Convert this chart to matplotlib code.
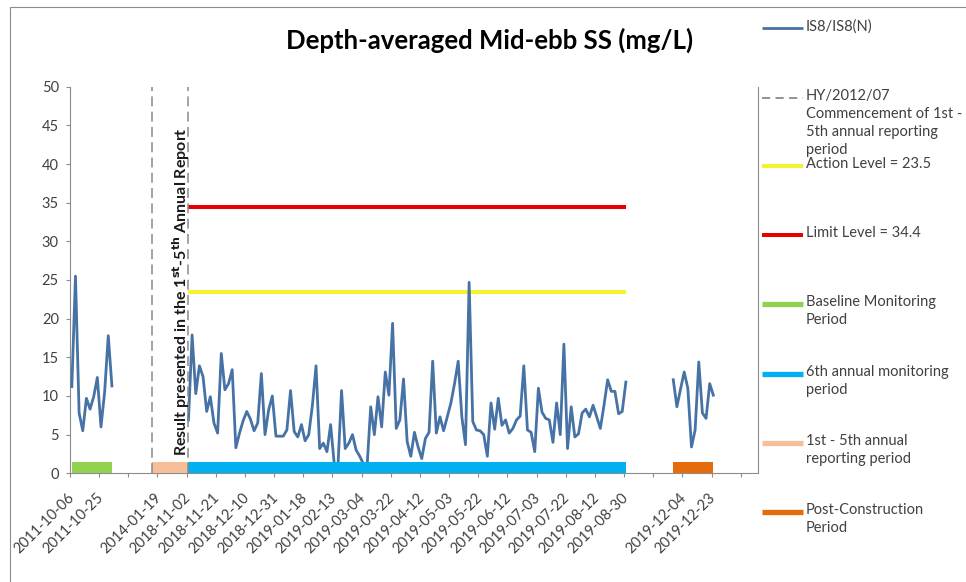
import numpy as np
import matplotlib
matplotlib.use("Agg")
import matplotlib.pyplot as plt
from matplotlib.lines import Line2D
from matplotlib.patches import Rectangle

plt.rcParams['font.family'] = ['Lato', 'DejaVu Sans']

W, H = 966, 582

# depth-averaged mid-ebb SS (mg/L), one value per monitoring day
baseline_ss = [11.2, 25.5, 7.8, 5.5, 9.7, 8.3, 9.9, 12.4, 6.0, 10.5, 17.8, 11.3]
sixth_ss = [6.9, 17.9, 10.3, 13.9, 12.5, 8.0, 9.9, 6.5, 5.2, 15.5,
            10.8, 11.6, 13.4, 3.3, 5.2, 6.8, 8.0, 7.0, 5.5, 6.5,
            12.9, 5.0, 8.2, 10.0, 4.8, 4.8, 4.8, 5.6, 10.7, 5.4,
            4.7, 6.3, 4.2, 5.0, 8.8, 13.9, 3.2, 3.9, 2.8, 6.3,
            1.2, 0.8, 10.7, 3.2, 3.9, 5.0, 3.0, 2.2, 1.2, 0.9,
            8.6, 5.0, 9.9, 6.0, 13.1, 10.1, 19.4, 5.8, 6.9, 12.2,
            4.1, 2.2, 5.3, 3.4, 1.9, 4.5, 5.3, 14.5, 5.2, 7.3,
            5.5, 7.3, 9.1, 11.6, 14.5, 7.3, 3.7, 24.7, 6.7, 5.6,
            5.5, 5.0, 2.2, 9.1, 5.7, 9.7, 6.2, 6.9, 5.2, 5.8,
            6.9, 7.4, 13.9, 5.6, 5.3, 2.8, 11.0, 7.9, 7.1, 6.9,
            4.0, 9.1, 5.0, 16.7, 3.2, 8.6, 4.7, 5.1, 7.8, 8.3,
            7.3, 8.8, 7.3, 5.8, 8.8, 12.1, 10.6, 10.6, 7.7, 8.0,
            11.8]
post_ss = [12.1, 8.6, 10.9, 13.1, 11.0, 3.4, 5.6, 14.4, 7.8, 7.1, 11.6, 10.1]

baseline_start = 0
sixth_start = 32
post_start = 165
n_categories = 189

tick_every = 8
tick_labels = ["2011-10-06", "2011-10-25", "", "2014-01-19", "2018-11-02",
               "2018-11-21", "2018-12-10", "2018-12-31", "2019-01-18",
               "2019-02-13", "2019-03-04", "2019-03-22", "2019-04-12",
               "2019-05-03", "2019-05-22", "2019-06-12", "2019-07-03",
               "2019-07-22", "2019-08-12", "2019-08-30", "",
               "2019-12-04", "2019-12-23", ""]

action_level = 23.5
limit_level = 34.4
level_range = [32, 152]
commencement_cats = [22, 32]

period_bar_height = 1.5
period_names = ["Baseline Monitoring\nPeriod", "6th annual monitoring\nperiod",
                "1st - 5th annual\nreporting period", "Post-Construction\nPeriod"]
period_ranges = [[0, 11], [32, 152], [22, 32], [165, 176]]
period_colors = ["#92D050", "#00B0F0", "#F7BF98", "#E46C0A"]

series_color = "#4672A6"
dash_color = "#8a8a8a"
yellow = "#F4F42C"
red = "#E60000"
axis_grey = "#8c8c8c"
text_col = "#404040"

# ---- build the series on the category axis
ss = np.full(n_categories, np.nan)
ss[baseline_start:baseline_start + len(baseline_ss)] = baseline_ss
ss[sixth_start:sixth_start + len(sixth_ss)] = sixth_ss
ss[post_start:post_start + len(post_ss)] = post_ss
cats = np.arange(n_categories)

fig = plt.figure(figsize=(W / 100, H / 100), dpi=100)
ax = fig.add_axes([70 / W, 1 - 473.3 / H, (758 - 70) / W, (473.3 - 86.7) / H])

lv = np.arange(level_range[0], level_range[1] + 1)
ax.plot(lv, np.full(len(lv), action_level), color=yellow, lw=2.9,
        solid_capstyle='butt', zorder=2)
ax.plot(lv, np.full(len(lv), limit_level), color=red, lw=2.9,
        solid_capstyle='butt', zorder=2)

ax.plot(cats, ss, color=series_color, lw=2.0, zorder=3)

for (a, b), c in zip(period_ranges, period_colors):
    xs = np.arange(a, b + 1)
    ax.fill_between(xs, 0, period_bar_height, color=c, lw=0, zorder=4)

for c in commencement_cats:
    ax.axvline(c, color=dash_color, lw=1.1, dashes=(6.5, 3.5), zorder=5)

ax.text(30.1, 2.3, r"Result presented in the 1$^{\mathbf{st}}$-5$^{\mathbf{th}}$ Annual Report",
        rotation=90, ha='center', va='bottom', fontsize=11.5, fontweight='bold',
        color='#1a1a1a', zorder=6)

ax.set_xlim(-0.5, 188.25)
ax.set_ylim(0, 50)
ax.set_yticks(np.arange(0, 51, 5))
ax.tick_params(axis='y', direction='out', length=3, width=0.8, color=axis_grey,
               labelsize=10.5, labelcolor=text_col, pad=5)

major_pos = np.arange(len(tick_labels)) * tick_every
ax.set_xticks(major_pos)
ax.set_xticklabels(tick_labels, rotation=45, ha='right', rotation_mode='anchor',
                   va='center')
ax.set_xticks(major_pos - 0.5, minor=True)
ax.tick_params(axis='x', which='major', length=0, labelsize=10.5,
               labelcolor=text_col, pad=16)
ax.tick_params(axis='x', which='minor', direction='out', length=3, width=0.8,
               color=axis_grey)

for s in ['left', 'bottom', 'right']:
    ax.spines[s].set_color(axis_grey)
    ax.spines[s].set_linewidth(0.8)
ax.spines['top'].set_visible(False)

fig.text(490 / W, 1 - 40 / H, "Depth-averaged Mid-ebb SS (mg/L)", ha='center',
         va='center', fontsize=18.5, fontweight='bold', color='black')


# ---- legend drawn at the right, Excel style (text may run into the next entry)
def legend_entry(y_px, label, color, lw, dashed=False):
    line = Line2D([762 / W, 803 / W], [1 - y_px / H, 1 - y_px / H],
                  transform=fig.transFigure, color=color, lw=lw,
                  solid_capstyle='butt')
    if dashed:
        line.set_dashes((4.5, 3))
    fig.add_artist(line)
    fig.text(806 / W, 1 - (y_px - 9) / H, label, ha='left', va='top',
             fontsize=10.5, color=text_col, linespacing=1.35)


legend_entry(28, "IS8/IS8(N)", series_color, 2.0)
legend_entry(98, "HY/2012/07\nCommencement of 1st -\n5th annual reporting\nperiod",
             dash_color, 1.3, dashed=True)
legend_entry(166, "Action Level = 23.5", yellow, 2.9)
legend_entry(235, "Limit Level = 34.4", red, 2.9)
for y_px, name, c in zip([304, 374, 443, 512], period_names, period_colors):
    legend_entry(y_px, name, c, 3.8)

fig.add_artist(Rectangle((9.5 / W, -0.1), 1.2, 1.1 - 6.5 / H, transform=fig.transFigure,
                         fill=False, edgecolor=axis_grey, lw=0.8))

fig.savefig("out.png", dpi=100)
